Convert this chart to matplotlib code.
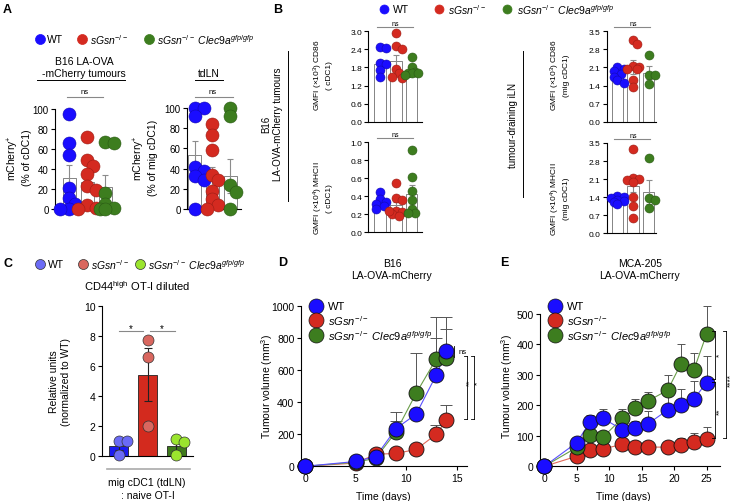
import matplotlib
matplotlib.use("Agg")
import matplotlib.pyplot as plt
from matplotlib.lines import Line2D
import numpy as np

# --- Data ---
GROUPS = ["WT", "sGsn-/-", "sGsn-/- Clec9a gfp/gfp"]

# A: mCherry+ (% of cDC1) in tumours, and (% of mig cDC1) in tdLN
a1_wt = [95, 66, 54, 21, 11, 5, 0, 0]
a1_ko = [72, 49, 43, 35, 23, 19, 4, 1, 0]
a1_dko = [67, 66, 16, 5, 1, 0, 0]
a1_mean = [31.5, 27, 22]
a1_sem = [13, 7, 12]

a2_wt = [100, 100, 92, 42, 38, 33, 29, 0]
a2_ko = [84, 73, 58, 34, 29, 18, 10, 4, 0]
a2_dko = [100, 92, 24, 17, 0]
a2_mean = [53, 31.5, 33]
a2_sem = [14, 10, 17]

# B: GMFI, tumour cDC1 and tumour-draining iLN mig cDC1
b1_wt = [2.48, 2.45, 1.95, 1.9, 1.7, 1.5]
b1_ko = [2.95, 2.5, 2.4, 1.75, 1.6, 1.5, 1.45]
b1_dko = [2.15, 1.8, 1.65, 1.6, 1.6, 1.6, 1.55]
b1_mean = [1.9, 2.0, 1.65]
b1_sem = [0.15, 0.2, 0.1]

b2_wt = [0.45, 0.37, 0.34, 0.32, 0.29, 0.26]
b2_ko = [0.55, 0.38, 0.36, 0.24, 0.23, 0.20, 0.18, 0.24]
b2_dko = [0.92, 0.61, 0.46, 0.36, 0.26, 0.22, 0.21]
b2_mean = [0.32, 0.30, 0.43]
b2_sem = [0.03, 0.04, 0.10]

b3_wt = [2.1, 2.05, 1.95, 1.85, 1.75, 1.6, 1.5]
b3_ko = [3.15, 3.0, 2.15, 2.1, 2.05, 2.05, 1.6, 1.35]
b3_dko = [2.6, 1.8, 1.8, 1.45]
b3_mean = [1.8, 2.1, 1.9]
b3_sem = [0.08, 0.27, 0.25]

b4_wt = [1.45, 1.4, 1.35, 1.3, 1.25, 1.2, 1.15]
b4_ko = [3.25, 2.15, 2.1, 2.05, 2.0, 1.4, 1.05, 0.6]
b4_dko = [2.9, 1.35, 1.3, 1.0]
b4_mean = [1.25, 1.85, 1.6]
b4_sem = [0.05, 0.25, 0.45]

# C: CD44high OT-I diluted, relative units
c_wt = [1.0, 1.0, 0.05]
c_ko = [7.7, 6.6, 2.0]
c_dko = [1.1, 0.9, 0.05]
c_mean = [0.65, 5.4, 0.68]
c_sem = [0.3, 1.75, 0.35]

# D: B16 LA-OVA-mCherry growth
d_days = [0, 5, 7, 9, 11, 13, 14]
d_wt = [0, 30, 60, 235, 325, 570, 720]
d_wt_err = [0, 5, 10, 100, 20, 227, 208]
d_ko = [0, 20, 75, 80, 105, 200, 290]
d_ko_err = [0, 5, 10, 10, 15, 60, 90]
d_dko = [0, 25, 50, 215, 455, 670, 675]
d_dko_err = [0, 5, 10, 70, 250, 258, 180]

# E: MCA-205 LA-OVA-mCherry growth
e_days = [0, 5, 7, 9, 12, 14, 16, 19, 21, 23, 25]
e_wt = [0, 78, 145, 158, 120, 125, 140, 185, 200, 220, 275]
e_wt_err = [0, 5, 25, 30, 10, 25, 40, 45, 55, 60, 88]
e_ko = [0, 33, 55, 57, 72, 65, 63, 63, 70, 80, 90]
e_ko_err = [0, 5, 5, 5, 5, 5, 5, 5, 22, 28, 40]
e_dko = [0, 62, 103, 95, 158, 190, 215, 250, 335, 315, 435]
e_dko_err = [0, 5, 5, 10, 30, 32, 30, 50, 65, 57, 90]

# --- Style ---
plt.rcParams["font.family"] = "Liberation Sans"
plt.rcParams["mathtext.fontset"] = "custom"
plt.rcParams["mathtext.rm"] = "Liberation Sans"
plt.rcParams["mathtext.it"] = "Liberation Sans:italic"
plt.rcParams["mathtext.bf"] = "Liberation Sans:bold"

BLUE, RED, GREEN = "#1a0dff", "#d42a20", "#3d7d1f"
EDGE = {BLUE: "#1208b0", RED: "#9a1d15", GREEN: "#2a5a14"}
C_BAR = ["#1c1cf0", "#d32a1e", "#3f7a1c"]
C_DOT = ["#6b6bf5", "#d9675f", "#9be52e"]
LINE_COL = ["#5a50ff", "#e06a5a", "#6a9e4a"]
KO_LABEL = r"$\mathit{sGsn}^{-/-}$"
DKO_LABEL = r"$\mathit{sGsn}^{-/-}\ \mathit{Clec9a}^{\mathit{gfp/gfp}}$"

W, H = 740, 502
fig = plt.figure(figsize=(W / 100, H / 100), dpi=100)


def fx(x):
    return x / W


def fy(y):
    return 1 - y / H


def add_ax(x0, y0, x1, y1):
    ax = fig.add_axes([fx(x0), fy(y1), (x1 - x0) / W, (y1 - y0) / H])
    ax.patch.set_alpha(0)
    for s in ["top", "right"]:
        ax.spines[s].set_visible(False)
    for s in ["left", "bottom"]:
        ax.spines[s].set_linewidth(0.8)
    return ax


def txt(x, y, s, size=7.5, **kw):
    kw.setdefault("ha", "center")
    kw.setdefault("va", "center")
    fig.text(fx(x), fy(y), s, fontsize=size, **kw)


def seg(x0, y0, x1, y1, color="k", lw=0.7):
    fig.add_artist(Line2D([fx(x0), fx(x1)], [fy(y0), fy(y1)], color=color, lw=lw))


def dot(x, y, color, d_px, edge=None):
    fig.add_artist(Line2D([fx(x)], [fy(y)], marker="o", ms=d_px * 0.72, mfc=color,
                          mec=edge or color, mew=0.5, ls="none"))


def swarm(vals, d_px, py):
    # simple deterministic spread so dots do not sit exactly on top of each other
    placed, offs = [], []
    cands = [0, 0.4, -0.4, 0.7, -0.7]
    for v in vals:
        best, best_d = 0, -1
        for c in cands:
            o = c * d_px
            dmin = min([np.hypot(o - po, (v - pv) * py) for po, pv in placed] + [1e9])
            if dmin >= 0.55 * d_px:
                best = o
                break
            if dmin > best_d:
                best, best_d = o, dmin
        placed.append((best, v))
        offs.append(best)
    return np.array(offs)


def dot_bars(ax, groups, means, sems, d_px, px_x, px_y, bar_w=0.73, colors=(BLUE, RED, GREEN)):
    for i, (vals, m, s, c) in enumerate(zip(groups, means, sems, colors)):
        ax.bar(i, m, width=bar_w, color="white", edgecolor="#707070", lw=0.6, zorder=1)
        ax.errorbar(i, m, yerr=s, color="#8c8c8c", capsize=2.2, lw=0.8, capthick=0.8, zorder=2)
        offs = swarm(vals, d_px, px_y) / px_x
        ax.scatter(i + offs, vals, s=(d_px * 0.72) ** 2, color=c, edgecolors=EDGE[c],
                   linewidths=0.4, zorder=3, clip_on=False)


def yaxis(ax, ticks, labels, size):
    ax.set_yticks(ticks)
    ax.set_yticklabels(labels)
    ax.tick_params(axis="y", length=3, width=0.8, labelsize=size, pad=1.5)
    ax.set_xticks([])


# --- Panel A ---
txt(3, 10, "A", 9, ha="left", weight="bold")
dot(40, 40, BLUE, 10)
txt(47, 40, "WT", 7.5, ha="left")
dot(82, 40, RED, 10)
txt(90, 40, KO_LABEL, 7.5, ha="left")
dot(149, 40, GREEN, 10)
txt(157, 40, DKO_LABEL, 7.5, ha="left")

txt(84, 68, "B16 LA-OVA\n-mCherry tumours", 7.5, linespacing=1.15)
seg(37, 81, 125, 81, lw=0.7)
txt(209, 74, "tdLN", 7.5)
seg(195, 81, 223, 81, lw=0.7)

ax = add_ax(55, 110, 116, 210)
ax.set_xlim(-0.8, 2.6)
ax.set_ylim(0, 100)
dot_bars(ax, [a1_wt, a1_ko, a1_dko], a1_mean, a1_sem, 13, 17.8, 1.0)
yaxis(ax, range(0, 101, 20), [str(t) for t in range(0, 101, 20)], 7)
txt(19, 158, "mCherry$^{+}$\n(% of cDC1)", 7.5, rotation=90)
seg(67, 98, 103, 98, color="#888888", lw=0.8)
txt(85, 93, "ns", 5.5)

ax = add_ax(187, 109, 241, 210)
ax.set_xlim(-0.42, 2.6)
ax.set_ylim(0, 100)
dot_bars(ax, [a2_wt, a2_ko, a2_dko], a2_mean, a2_sem, 13, 17.7, 1.01)
yaxis(ax, range(0, 101, 20), [str(t) for t in range(0, 101, 20)], 7)
txt(145, 158, "mCherry$^{+}$\n(% of mig cDC1)", 7.5, rotation=90)
seg(195, 98, 233, 98, color="#888888", lw=0.8)
txt(213, 93, "ns", 5.5)

# --- Panel B ---
txt(273, 10, "B", 9, ha="left", weight="bold")
dot(384, 10, BLUE, 9)
txt(393, 10, "WT", 7.5, ha="left")
dot(439, 10, RED, 9)
txt(448, 10, KO_LABEL, 7.5, ha="left")
dot(507, 10, GREEN, 9)
txt(517, 10, DKO_LABEL, 7.5, ha="left")

txt(272, 124, "B16\nLA-OVA-mCherry tumours", 7, rotation=90)
seg(288, 52, 288, 202)
txt(513, 126, "tumour-draining iLN", 7, rotation=90)
seg(523, 52, 523, 198)

b_panels = [
    (368.3, 32.3, 122.7, (-0.74, 2.65), 3.0, 0.6, [b1_wt, b1_ko, b1_dko], b1_mean, b1_sem,
     "GMFI (×10$^{3}$) CD86\n( cDC1)", 15.8),
    (368.3, 143.3, 233.3, (-0.74, 2.65), 1.0, 0.2, [b2_wt, b2_ko, b2_dko], b2_mean, b2_sem,
     "GMFI (×10$^{4}$) MHCII\n( cDC1)", 15.8),
    (606.7, 32.3, 122.7, (-0.69, 2.45), 3.5, 0.7, [b3_wt, b3_ko, b3_dko], b3_mean, b3_sem,
     "GMFI (×10$^{3}$) CD86\n(mig cDC1)", 15.6),
    (606.7, 144, 234.3, (-0.69, 2.45), 3.5, 0.7, [b4_wt, b4_ko, b4_dko], b4_mean, b4_sem,
     "GMFI (×10$^{4}$) MHCII\n(mig cDC1)", 15.6),
]
for x0, ytop, ybot, xl, ymax, step, grp, mean, sem, ylab, sp in b_panels:
    width_px = (xl[1] - xl[0]) * sp
    ax = add_ax(x0, ytop, x0 + width_px, ybot)
    ax.set_xlim(*xl)
    ax.set_ylim(0, ymax)
    dot_bars(ax, grp, mean, sem, 9, sp, (ybot - ytop) / ymax)
    ticks = np.round(np.arange(0, ymax + 1e-9, step), 2)
    yaxis(ax, ticks, ["%.1f" % t for t in ticks], 6)
    lx = x0 - 46 if x0 < 500 else x0 - 47
    txt(lx, (ytop + ybot) / 2 - 2 + (12 if ytop > 100 else 0), ylab, 6, rotation=90)
    cx = x0 - xl[0] * sp
    seg(cx - 3, ytop - 4, cx + 2 * sp + 1, ytop - 4, color="#888888", lw=0.8)
    txt(cx + sp, ytop - 8, "ns", 5)

# --- Panel C ---
txt(3, 264, "C", 9, ha="left", weight="bold")
for x, col, lab in [(40, C_DOT[0], "WT"), (83, C_DOT[1], KO_LABEL), (140, C_DOT[2], DKO_LABEL)]:
    dot(x, 265, col, 10, edge="#333333")
    txt(x + 8, 265, lab, 7.5, ha="left")
txt(137, 286, "CD44$^{\\mathrm{high}}$ OT-I diluted", 8)

ax = add_ax(101.7, 306.7, 193, 456.7)
sp = 28.7
ax.set_xlim(-0.6, (193 - 101.7) / sp - 0.6)
ax.set_ylim(0, 10)
for i, (vals, m, s) in enumerate(zip([c_wt, c_ko, c_dko], c_mean, c_sem)):
    ax.bar(i, m, width=0.66, color=C_BAR[i], edgecolor="#222222", lw=0.6, zorder=1)
    ax.errorbar(i, m, yerr=s, color="#222222", capsize=3, lw=0.8, capthick=0.8, zorder=2)
    offs = swarm(vals, 11, 15.0) / sp
    ax.scatter(i + offs, vals, s=(11 * 0.72) ** 2, color=C_DOT[i], edgecolors="#333333",
               linewidths=0.5, zorder=3, clip_on=False)
yaxis(ax, range(0, 11, 2), [str(t) for t in range(0, 11, 2)], 7.5)
txt(60, 382, "Relative units\n(normalized to WT)", 7.5, rotation=90)
seg(119, 331.7, 143, 331.7, color="#888888", lw=0.8)
txt(131, 329, "*", 7)
seg(150, 331.7, 175, 331.7, color="#888888", lw=0.8)
txt(162, 329, "*", 7)
seg(107, 470, 190, 470, color="#aaaaaa", lw=1.2)
txt(147, 483, "mig cDC1 (tdLN)", 7.5)
txt(148, 496, ": naive OT-I", 7.5)


# --- Growth curves D and E ---
def growth(ax, days, series, errs, cap):
    cols = [BLUE, RED, GREEN]
    for k in [1, 2, 0]:
        ax.errorbar(days, series[k], yerr=[np.zeros(len(days)), errs[k]], fmt="none",
                    ecolor="#555555", elinewidth=0.7, capsize=cap, capthick=0.7, zorder=1,
                    clip_on=False)
    for k in [1, 2, 0]:
        ax.plot(days, series[k], color=LINE_COL[k], lw=0.8, zorder=2)
    for k in [1, 2, 0]:
        ax.plot(days, series[k], "o", ms=10.8, mfc=cols[k], mec="#111111", mew=0.6,
                zorder=3, clip_on=False)
    ax.tick_params(axis="both", length=3, width=0.8, labelsize=7.5, pad=1.5)


def growth_legend(x, xt):
    for y, c, lab in [(307, BLUE, "WT"), (321, RED, KO_LABEL), (336, GREEN, DKO_LABEL)]:
        dot(x, y, c, 15, edge="#111111")
        txt(xt, y, lab, 8, ha="left")


txt(278, 263, "D", 9, ha="left", weight="bold")
txt(392, 270, "B16\nLA-OVA-mCherry", 7.5, linespacing=1.2)
ax = add_ax(300.7, 306.7, 466.7, 467.3)
ax.set_xlim(-0.43, 16.0)
ax.set_ylim(0, 1000)
growth(ax, d_days, [d_wt, d_ko, d_dko], [d_wt_err, d_ko_err, d_dko_err], 4.3)
ax.set_xticks([0, 5, 10, 15])
ax.set_yticks(range(0, 1001, 200))
txt(383, 497, "Time (days)", 7.5)
txt(267, 387, "Tumour volume (mm$^{3}$)", 7.5, rotation=90)
growth_legend(316, 328)
# significance brackets
seg(454, 347, 454, 358, lw=0.6)
txt(459, 352, "ns", 5.5, ha="left")
for xb, lab in [(466.7, "**"), (474, "*")]:
    seg(xb, 356.7, xb, 420, lw=0.6)
    seg(xb - 3, 356.7, xb, 356.7, lw=0.6)
    seg(xb - 3, 420, xb, 420, lw=0.6)
    txt(xb + 3.5, 383, lab, 6, rotation=90)

txt(500, 263, "E", 9, ha="left", weight="bold")
txt(640, 270, "MCA-205\nLA-OVA-mCherry", 7.5, linespacing=1.2)
ax = add_ax(540, 315, 720, 467.3)
ax.set_xlim(-0.67, 27.05)
ax.set_ylim(0, 500)
growth(ax, e_days, [e_wt, e_ko, e_dko], [e_wt_err, e_ko_err, e_dko_err], 3)
ax.set_xticks(range(0, 26, 5))
ax.set_yticks(range(0, 501, 100))
txt(623, 497, "Time (days)", 7.5)
txt(507, 387, "Tumour volume (mm$^{3}$)", 7.5, rotation=90)
growth_legend(555, 567)
for y0, y1, lab in [(331.7, 380, "*"), (383.3, 439.3, "**")]:
    seg(715, y0, 715, y1, lw=0.6)
    seg(712, y0, 715, y0, lw=0.6)
    seg(712, y1, 715, y1, lw=0.6)
    txt(719.5, (y0 + y1) / 2, lab, 6, rotation=90)
seg(726, 331.7, 726, 439.3, lw=0.6)
seg(723, 331.7, 726, 331.7, lw=0.6)
seg(723, 439.3, 726, 439.3, lw=0.6)
txt(731, 381, "****", 6, rotation=90)

fig.savefig("out.png", dpi=100)
